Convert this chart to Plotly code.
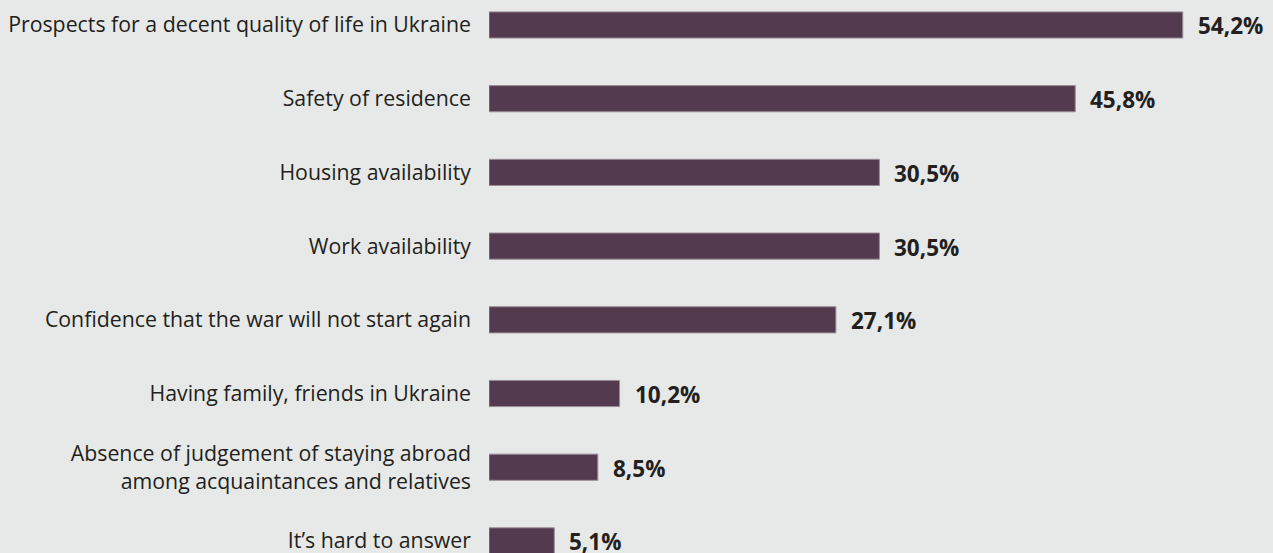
import plotly.graph_objects as go

categories = [
    "Prospects for a decent quality of life in Ukraine",
    "Safety of residence",
    "Housing availability",
    "Work availability",
    "Confidence that the war will not start again",
    "Having family, friends in Ukraine",
    "Absence of judgement of staying abroad<br>among acquaintances and relatives",
    "It’s hard to answer",
]
values = [54.2, 45.8, 30.5, 30.5, 27.1, 10.2, 8.5, 5.1]

BG = "#e6e9e7"
BAR = "#543a4e"
TEXT = "#231f20"

def fmt(v):
    return f"{v:.1f}".replace(".", ",") + "%"

fig = go.Figure(
    go.Bar(
        x=values,
        y=categories,
        orientation="h",
        width=0.355,
        marker=dict(color=BAR, line=dict(color="#9a8c96", width=1)),
        hoverinfo="skip",
    )
)

for cat, v in zip(categories, values):
    fig.add_annotation(
        x=v, y=cat, text=f"<b>{fmt(v)}</b>", showarrow=False,
        xanchor="left", yanchor="middle", xshift=13, yshift=-1,
        font=dict(family="Open Sans", size=22.5, color=TEXT),
    )

fig.update_layout(
    width=1273, height=553,
    margin=dict(l=489, r=0, t=0, b=0),
    paper_bgcolor=BG, plot_bgcolor=BG,
    showlegend=False,
    font=dict(family="Open Sans", size=21.3, color=TEXT),
)
fig.update_xaxes(range=[0, 61.25], visible=False, showgrid=False, zeroline=False)
fig.update_yaxes(
    type="category", range=[7.164, -0.339], showgrid=False, zeroline=False,
    showline=False, ticks="", ticklabelstandoff=17,
    tickfont=dict(family="Open Sans", size=21.3, color=TEXT),
)

fig.write_html("out.html")
